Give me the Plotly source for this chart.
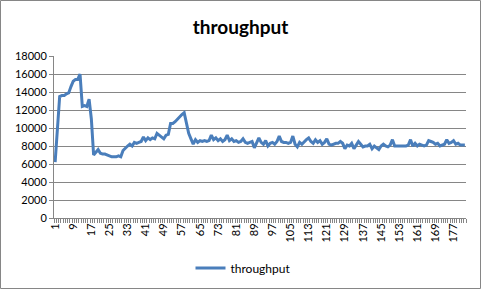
import plotly.graph_objects as go

values = [6200, 10500, 13500, 13600, 13600, 13800, 13900, 14600, 15200, 15400,
          15400, 16000, 12400, 12500, 12400, 13200, 11000, 7000, 7300, 7600,
          7200, 7100, 7100, 7000, 6900, 6800, 6800, 6800, 6900, 6800,
          7500, 7800, 8000, 8200, 8000, 8400, 8300, 8400, 8500, 9000,
          8600, 8900, 8700, 8900, 8800, 9400, 9200, 9000, 8800, 9200,
          9300, 10500, 10500, 10700, 11000, 11300, 11500, 11700, 10400, 9400,
          8800, 8200, 8700, 8400, 8600, 8500, 8600, 8500, 8600, 9200,
          8700, 8900, 8600, 8800, 8500, 8700, 9200, 8600, 8800, 8500,
          8600, 8400, 8500, 8800, 8400, 8300, 8400, 8500, 7800, 8300,
          8900, 8400, 8200, 8600, 8000, 8300, 8400, 8200, 8500, 9100,
          8500, 8400, 8400, 8300, 8400, 9100, 8200, 7900, 8400, 8200,
          8500, 8700, 8900, 8500, 8300, 8700, 8400, 8600, 8200, 8400,
          8800, 8200, 8100, 8200, 8300, 8300, 8500, 8300, 7700, 8100,
          8000, 8300, 7700, 8100, 8500, 8200, 7900, 8000, 8000, 8200,
          7700, 8000, 7800, 7600, 8000, 8200, 8000, 7900, 8100, 8700,
          8000, 8000, 8000, 8000, 8000, 8000, 8100, 8700, 8000, 8300,
          8000, 8200, 8100, 8000, 8100, 8600, 8500, 8400, 8200, 8300,
          8000, 8100, 8200, 8700, 8300, 8400, 8600, 8200, 8300, 8100,
          8100, 8100]
categories = list(range(1, len(values) + 1))
tick_labels = [str(c) for c in categories[::8]]
y_ticks = list(range(0, 18001, 2000))
y_labels = [str(v) for v in y_ticks]

W, H = 481, 289
L, R, T, B = 54, 15, 56, 71
pw, ph = W - L - R, H - T - B

fig = go.Figure()
fig.add_trace(go.Scatter(
    x=categories, y=values, mode="lines", name="throughput",
    line=dict(color="#4A7EBB", width=3),
))

fig.update_layout(
    width=W, height=H,
    margin=dict(l=L, r=R, t=T, b=B, autoexpand=False),
    paper_bgcolor="white", plot_bgcolor="white",
    font=dict(family="Lato, Open Sans, sans-serif", size=11, color="#000000"),
    title=dict(text="<b>throughput</b>", x=0.5, xanchor="center",
               y=1 - 27 / H, yanchor="middle",
               font=dict(size=19, family="Lato, Open Sans, sans-serif")),
    showlegend=True,
    legend=dict(orientation="h", x=0.5 - 17 / pw, xanchor="center",
                y=-(268 - (T + ph)) / ph, yanchor="middle",
                font=dict(size=12), itemwidth=30),
    xaxis=dict(
        range=[0.5, len(values) + 0.5], automargin=False,
        tickmode="array", tickvals=categories[::8], ticktext=tick_labels,
        tickangle=-90, ticks="", showgrid=False, zeroline=False,
        showline=True, linecolor="#868686", linewidth=1,
        tickfont=dict(size=11),
        minor=dict(tickmode="linear", tick0=0.5, dtick=1, ticks="outside",
                   ticklen=4, tickcolor="#868686", showgrid=False),
    ),
    yaxis=dict(
        range=[0, 18000], automargin=False,
        tickmode="array", tickvals=y_ticks, ticktext=y_labels,
        showgrid=True, gridcolor="#868686", gridwidth=1,
        zeroline=False, showline=True, linecolor="#868686", linewidth=1,
        ticks="outside", ticklen=4, tickcolor="#868686",
        tickfont=dict(size=11),
    ),
    shapes=[dict(type="rect", xref="paper", yref="paper",
                 x0=-(L - 0.5) / pw, x1=1 + (R - 0.5) / pw,
                 y0=-(B - 0.5) / ph, y1=1 + (T - 0.5) / ph,
                 line=dict(color="#868686", width=1), layer="below")],
)

fig.write_html("out.html")
